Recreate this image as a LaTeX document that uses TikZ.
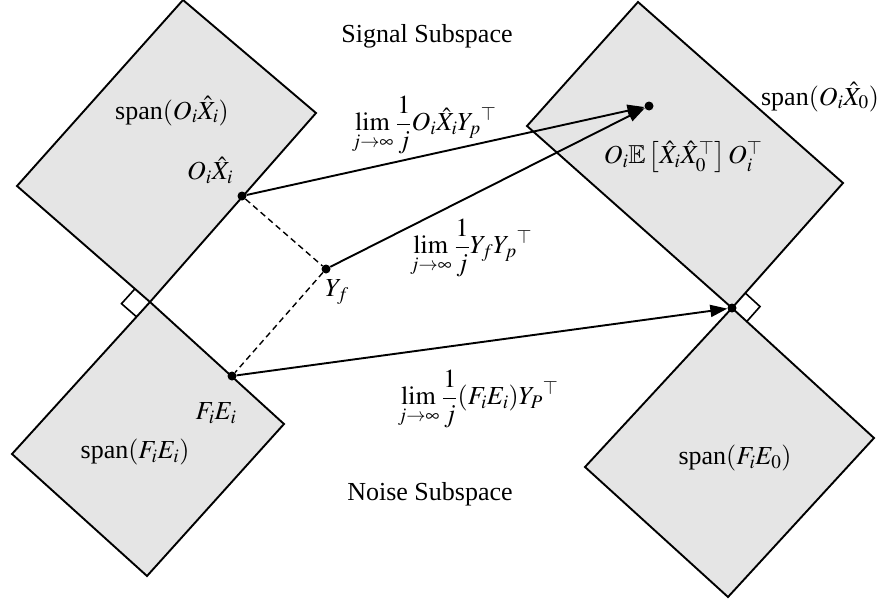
\documentclass[tikz,border=0pt]{standalone}
\usepackage{amssymb}
\usepackage{mathptmx}
\usepackage{fontspec}
\setmainfont{Liberation Serif}
\usetikzlibrary{arrows.meta,calc}
\begin{document}
\begin{tikzpicture}[x=1pt,y=-1pt,
  region/.style={draw=black,fill=gray!20,line width=1.9pt,line join=miter},
  dotnode/.style={circle,fill=black,inner sep=0pt,minimum size=9pt},
  lbl/.style={inner sep=0pt,font=\fontsize{26}{30}\selectfont},
  arr/.style={line width=1.9pt,-{Triangle[length=17pt,width=12pt]}},
  dashline/.style={line width=1.4pt,dash pattern=on 6pt off 4pt},
  marker/.style={line width=1.6pt}]
\useasboundingbox (0,0) rectangle (881,605);
% upper-left region
\coordinate (T1) at (183,0);
\coordinate (R1) at (316,113);
\coordinate (B1) at (150,302);
\coordinate (L1) at (17,186);
% lower-left region
\coordinate (T2) at (150,302);
\coordinate (R2) at (284,424);
\coordinate (B2) at (147,576);
\coordinate (L2) at (12,454);
% upper-right region
\coordinate (T3) at (638,2);
\coordinate (R3) at (843,183);
\coordinate (B3) at (732,308);
\coordinate (L3) at (527,126);
% lower-right region
\coordinate (T4) at (732,308);
\coordinate (R4) at (874,438);
\coordinate (B4) at (728,597);
\coordinate (L4) at (585,467);
\draw[region] (T1)--(R1)--(B1)--(L1)--cycle;
\draw[region] (T2)--(R2)--(B2)--(L2)--cycle;
\draw[region] (T3)--(R3)--(B3)--(L3)--cycle;
\draw[region] (T4)--(R4)--(B4)--(L4)--cycle;
% right-angle markers
\coordinate (m1a) at ($(B1)!20pt!(L1)$);
\coordinate (m1b) at ($(T2)!20pt!(L2)$);
\draw[marker] (m1a) -- ($(m1a)+(m1b)-(B1)$) -- (m1b);
\coordinate (m2a) at ($(B3)!20pt!(R3)$);
\coordinate (m2b) at ($(T4)!20pt!(R4)$);
\draw[marker] (m2a) -- ($(m2a)+(m2b)-(B3)$) -- (m2b);
% points
\node[dotnode] (p1) at (242,196) {};
\node[dotnode] (yf) at (326,269) {};
\node[dotnode] (p3) at (232,376) {};
\node[dotnode] (q1) at (649,106) {};
\node[dotnode] (q2) at (732,308) {};
% connectors
\draw[dashline] (p1) -- (yf) -- (p3);
\draw[arr] (p1) -- (q1);
\draw[arr] (yf) -- (q1);
\draw[arr] (p3) -- (q2);
% labels
\node[lbl] (sig) at (427,36) {Signal Subspace};
\node[lbl] (noise) at (430,494) {Noise Subspace};
\node[lbl] (spanOX) at (172,111) {span$(O_i\hat{X}_i)$};
\node[lbl] (OX) at (210,170) {$O_i\hat{X}_i$};
\node[lbl] (Yflbl) at (337,292) {$Y_f$};
\node[lbl] (FE) at (216,413) {$F_iE_i$};
\node[lbl] (spanFE) at (135,452) {span$(F_iE_i)$};
\node[lbl] (Elbl) at (683,157) {$O_i\mathbb{E}\left[\hat{X}_i\hat{X}_0^{\top}\right]O_i^{\top}$};
\node[lbl] (spanOX0) at (820,97) {span$(O_i\hat{X}_0)$};
\node[lbl] (spanFE0) at (735,458) {span$(F_iE_0)$};
\node[lbl] (l1) at (424,125) {$\displaystyle\lim_{j\to\infty}\frac{1}{j}O_i\hat{X}_iY_p{}^{\top}$};
\node[lbl] (l2) at (471,248) {$\displaystyle\lim_{j\to\infty}\frac{1}{j}Y_fY_p{}^{\top}$};
\node[lbl] (l3) at (478,399) {$\displaystyle\lim_{j\to\infty}\frac{1}{j}(F_iE_i)Y_P{}^{\top}$};
\end{tikzpicture}
\end{document}
